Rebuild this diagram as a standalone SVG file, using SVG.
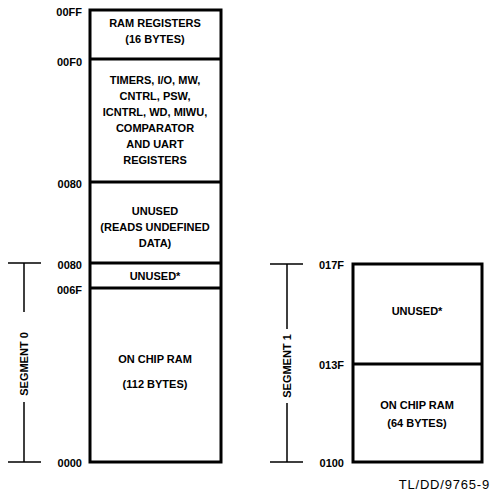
<svg xmlns="http://www.w3.org/2000/svg" width="494" height="493" viewBox="0 0 494 493">
<style>
text{font-family:"Liberation Sans",Arial,sans-serif;font-weight:bold;font-size:11px;fill:#000}
.c{text-anchor:middle}
.a{text-anchor:end}
.box{fill:none;stroke:#000;stroke-width:3}
.div{stroke:#000;stroke-width:3}
.br{stroke:#000;stroke-width:1.5;fill:none}
</style>
<rect width="494" height="493" fill="#fff"/>
<g id="segment0-map">
<rect class="box" x="90" y="10" width="131" height="452"/>
</g>
<g id="ram-registers">
<line class="div" x1="90" y1="59" x2="221" y2="59"/>
<text class="c" x="155" y="27">RAM REGISTERS</text>
<text class="c" x="155" y="43">(16 BYTES)</text>
</g>
<g id="timers">
<line class="div" x1="90" y1="182" x2="221" y2="182"/>
<text class="c" x="155" y="84">TIMERS, I/O, MW,</text>
<text class="c" x="155" y="100">CNTRL, PSW,</text>
<text class="c" x="155" y="116">ICNTRL, WD, MIWU,</text>
<text class="c" x="155" y="132">COMPARATOR</text>
<text class="c" x="155" y="148">AND UART</text>
<text class="c" x="155" y="164">REGISTERS</text>
</g>
<g id="unused-undefined">
<line class="div" x1="90" y1="263" x2="221" y2="263"/>
<text class="c" x="155" y="215">UNUSED</text>
<text class="c" x="155" y="231">(READS UNDEFINED</text>
<text class="c" x="155" y="247">DATA)</text>
</g>
<g id="unused0">
<line class="div" x1="90" y1="288" x2="221" y2="288"/>
<text class="c" x="155" y="280">UNUSED*</text>
</g>
<g id="ram0">
<text class="c" x="155" y="363">ON CHIP RAM</text>
<text class="c" x="155" y="388">(112 BYTES)</text>
</g>
<g id="addr-left">
<text class="a" x="82" y="16">00FF</text>
<text class="a" x="82" y="66">00F0</text>
<text class="a" x="82" y="188">0080</text>
<text class="a" x="82" y="269">0080</text>
<text class="a" x="82" y="294">006F</text>
<text class="a" x="82" y="467">0000</text>
</g>
<g id="segment1-map">
<rect class="box" x="353" y="264" width="129" height="198"/>
<line class="div" x1="353" y1="364" x2="482" y2="364"/>
<text class="c" x="417" y="315">UNUSED*</text>
<text class="c" x="417" y="409">ON CHIP RAM</text>
<text class="c" x="417" y="427">(64 BYTES)</text>
</g>
<g id="addr-right">
<text class="a" x="344" y="269">017F</text>
<text class="a" x="344" y="369">013F</text>
<text class="a" x="344" y="467">0100</text>
</g>
<g id="connectors">
<path class="br" d="M8 263H41M24 263V312M24 402V462M8 462H41"/>
<path class="br" d="M270 264H303M287 264V329M287 403V462M270 462H303"/>
</g>
<g id="segment-labels">
<text class="c" transform="translate(28 364) rotate(-90)">SEGMENT 0</text>
<text class="c" transform="translate(291 366) rotate(-90)">SEGMENT 1</text>
</g>
<text x="490" y="489" style="font-weight:normal;font-size:13px;text-anchor:end;letter-spacing:0.8px">TL/DD/9765-9</text>
</svg>
